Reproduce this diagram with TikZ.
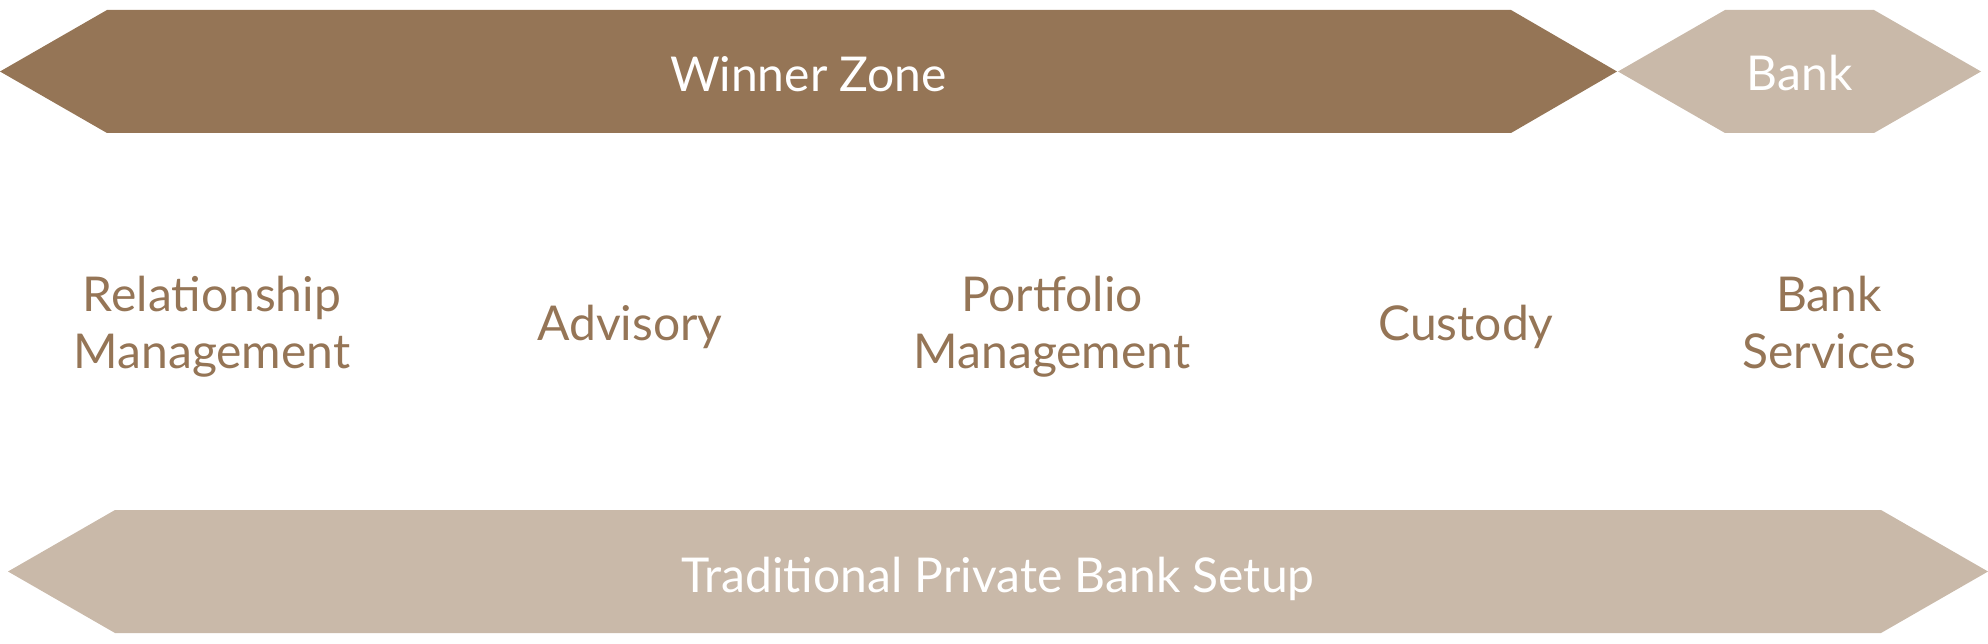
\documentclass[tikz,border=0pt]{standalone}
\usepackage{fontspec}
\setmainfont{Lato}
\definecolor{darkbrown}{HTML}{957556}
\definecolor{lightbrown}{HTML}{C9B9A9}
\begin{document}
\begin{tikzpicture}[x=1pt,y=-1pt,
  bannertext/.style={text=white,font=\fontsize{48}{57}\selectfont,inner sep=0pt,anchor=base},
  labeltext/.style={text=darkbrown,font=\fontsize{48}{57}\selectfont,inner sep=0pt,anchor=base,align=center}]
\useasboundingbox (0,0) rectangle (1988,644);
% top bars
\fill[darkbrown] (0,71.5) -- (107,10) -- (1511,10) -- (1617,71.5) -- (1511,133) -- (107,133) -- cycle;
\fill[lightbrown] (1618,71.5) -- (1725,10) -- (1874,10) -- (1981,71.5) -- (1874,133) -- (1725,133) -- cycle;
% bottom bar
\fill[lightbrown] (8,571.5) -- (115,510) -- (1881,510) -- (1988,571.5) -- (1881,633) -- (115,633) -- cycle;
% banner texts
\node[bannertext] (winner) at (808.5,92) {Winner Zone};
\node[bannertext] (bank) at (1799.5,91) {Bank};
\node[bannertext] (trad) at (998,592) {Traditional Private Bank Setup};
% labels
\node[labeltext] (rm) at (212,368) {Relationship\\Management};
\node[labeltext] (adv) at (630,340) {Advisory};
\node[labeltext] (pm) at (1052,368) {Portfolio\\Management};
\node[labeltext] (cus) at (1466,340) {Custody};
\node[labeltext] (bs) at (1829,368) {Bank\\Services};
\end{tikzpicture}
\end{document}
